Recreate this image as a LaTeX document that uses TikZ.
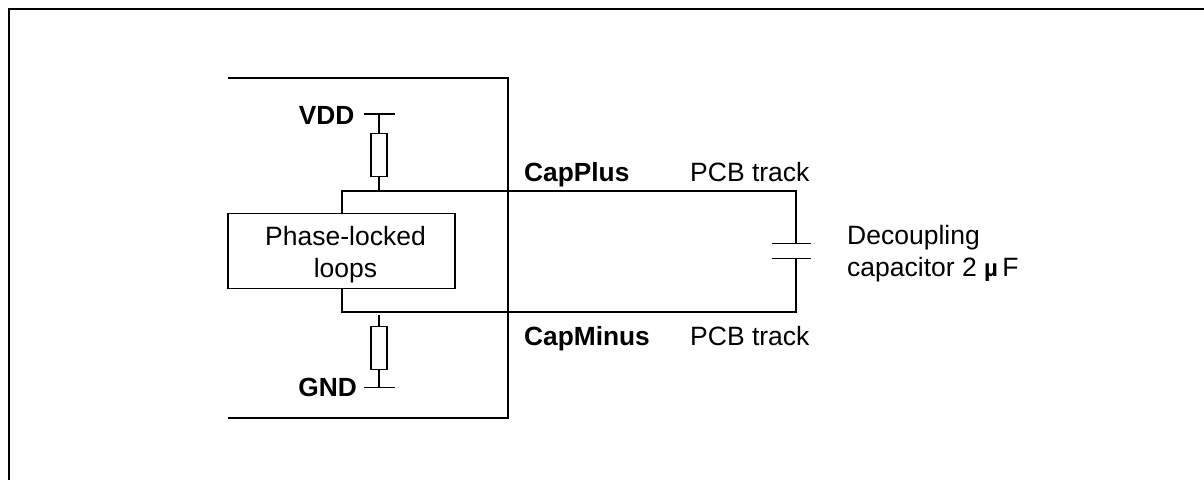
\documentclass[tikz,border=0pt]{standalone}
\usepackage{fontspec}
\setmainfont{Liberation Sans}
\tikzset{
  wire/.style={draw=black,line width=1.7pt},
  plate/.style={draw=black,line width=1.4pt},
  blockbox/.style={draw=black,line width=1.9pt,fill=white,minimum width=227.5pt,minimum height=75pt,inner sep=0pt},
  resistorbox/.style={draw=black,line width=1.7pt,fill=white,minimum width=15.5pt,minimum height=43pt,inner sep=0pt},
  lbl/.style={inner sep=0pt,font=\fontsize{26.5}{32}\selectfont,align=left},
  lblbold/.style={inner sep=0pt,font=\fontsize{26.3}{32}\selectfont\bfseries},
}
\begin{document}
\begin{tikzpicture}[x=1pt,y=-1pt]
\useasboundingbox (0,0) rectangle (1204,480);

% outer frame
\draw [wire,line width=2pt] (1204,9) -- (8.5,9) -- (8.5,480);
% chip outline
\draw [wire,line width=2pt] (228,77.5) -- (507.5,77.5) -- (507.5,417.5) -- (228,417.5);

% nodes
\node [blockbox] (pll) at (341.5,251) {};
\node [resistorbox] (rtop) at (379,155) {};
\node [resistorbox] (rbot) at (379,348) {};
\coordinate (vddbar) at (379,114);
\coordinate (gndbar) at (379,387.5);
\coordinate (plustap) at (379,191);
\coordinate (minustap) at (379,314.5);
\coordinate (plusbend) at (342,191);
\coordinate (minusbend) at (342,312);
\coordinate (pluscorner) at (796,191);
\coordinate (minuscorner) at (796,312);
\coordinate (captop) at (796,243.5);
\coordinate (capbot) at (796,258.5);

% supply rails
\draw [wire] ([xshift=-15.5pt]vddbar) -- ([xshift=15.5pt]vddbar);
\draw [plate] ([xshift=-15.5pt]gndbar) -- ([xshift=15.5pt]gndbar);
\draw [wire] (vddbar) -- (rtop.north);
\draw [wire] (rtop.south) -- (plustap);
\draw [wire] (gndbar) -- (rbot.south);
\draw [wire] (rbot.north) -- (minustap);

% tracks
\draw [wire] (pll.north-|plusbend) -- (plusbend) -- (pluscorner) -- (captop);
\draw [wire] (pll.south-|minusbend) -- (minusbend) -- (minuscorner) -- (capbot);

% capacitor
\draw [plate] ([xshift=-24pt]captop) -- ([xshift=15pt]captop);
\draw [plate] ([xshift=-24pt]capbot) -- ([xshift=15pt]capbot);

% Text Node
\node [lbl,align=center] (plltext) at (345.5,255) {Phase-locked\\loops};
\node [lblbold,anchor=east] (vdd) at (354.5,115) {VDD};
\node [lblbold,anchor=east] (gnd) at (357,387) {GND};
\node [lblbold,anchor=base west] (capplus) at (524,181) {CapPlus};
\node [lblbold,anchor=base west] (capminus) at (524,345) {CapMinus};
\node [lbl,anchor=base west] (trackplus) at (690,181) {PCB track};
\node [lbl,anchor=base west] (trackminus) at (690,345) {PCB track};
\node [lbl,anchor=west] (decap) at (847,254) {Decoupling\\capacitor 2 {\fontsize{24}{28}\selectfont\bfseries µ}\,F};

\end{tikzpicture}
\end{document}
